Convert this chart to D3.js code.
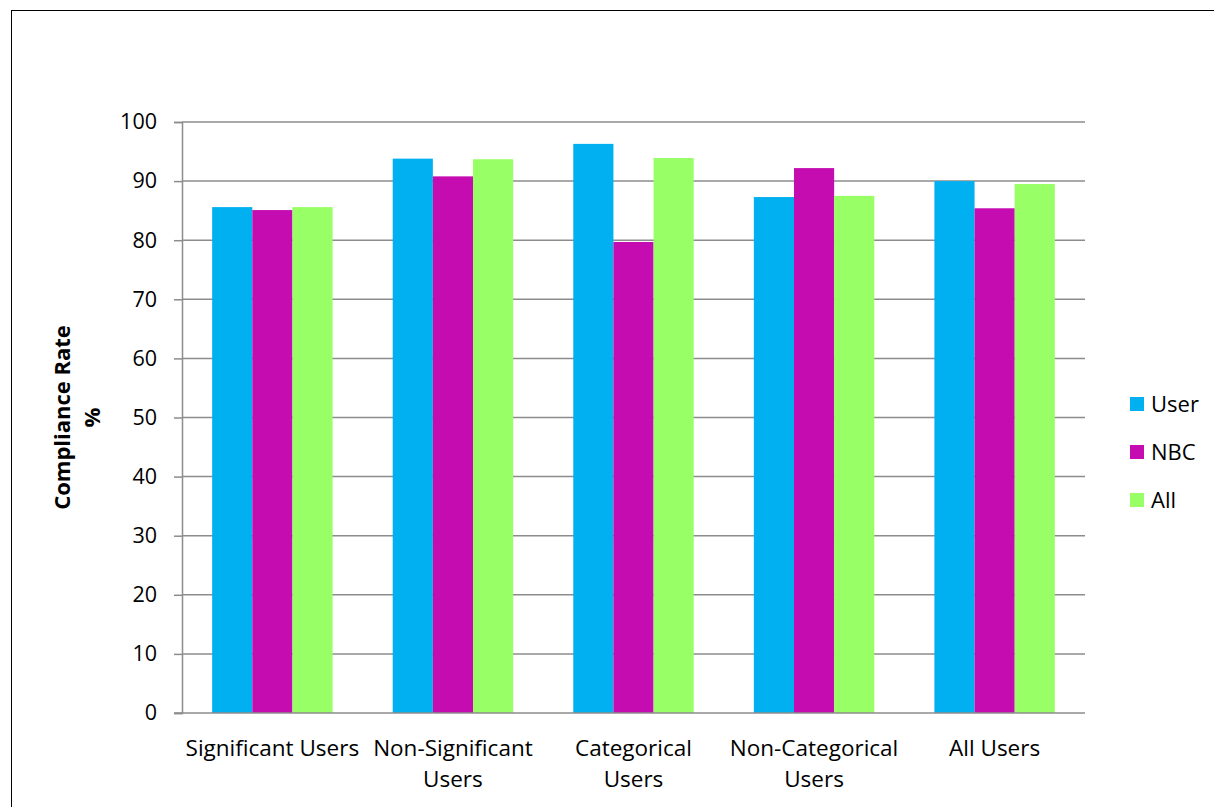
<!DOCTYPE html>
<html>
<head>
<meta charset="utf-8">
<script src="https://cdn.jsdelivr.net/npm/d3@7"></script>
<style>
  body { margin: 0; background: #fff; }
  text { font-family: "Open Sans", "Noto Sans", sans-serif; fill: #000; }
</style>
</head>
<body>
<div id="container"></div>
<script>
/* DATA */
const categories = ["Significant Users", "Non-Significant\nUsers", "Categorical\nUsers", "Non-Categorical\nUsers", "All Users"];
const seriesNames = ["User", "NBC", "All"];
const userValues = [85.6, 93.8, 96.3, 87.3, 90.0];
const nbcValues = [85.1, 90.8, 79.7, 92.2, 85.4];
const allValues = [85.6, 93.7, 93.9, 87.5, 89.5];
const yTicks = [0, 10, 20, 30, 40, 50, 60, 70, 80, 90, 100];

const colors = { User: "#00B0F0", NBC: "#C40CB0", All: "#99FF66" };

/* CONSTANTS */
const width = 1214, height = 807,
  margin = { top: 122, bottom: 94, left: 182, right: 129 };

const rows = categories.map((c, i) => ({
  category: c,
  User: userValues[i],
  NBC: nbcValues[i],
  All: allValues[i]
}));

const svg = d3.select("#container").append("svg")
  .attr("width", width)
  .attr("height", height)
  .style("display", "block");

// outer border
svg.append("rect")
  .attr("x", 11.5).attr("y", 10.5)
  .attr("width", width + 10).attr("height", height + 10)
  .attr("fill", "none")
  .attr("stroke", "#000")
  .attr("stroke-width", 1);

// SCALES
const x0 = d3.scaleBand()
  .domain(categories)
  .range([margin.left, width - margin.right])
  .paddingInner(0.333)
  .paddingOuter(0.167);

const x1 = d3.scaleBand()
  .domain(seriesNames)
  .range([0, x0.bandwidth()]);

const y = d3.scaleLinear()
  .domain([0, 100])
  .range([height - margin.bottom, margin.top]);

// GRIDLINES
svg.append("g")
  .selectAll("line.grid")
  .data(yTicks.filter(d => d > 0))
  .join("line")
  .attr("class", "grid")
  .attr("x1", margin.left)
  .attr("x2", width - margin.right)
  .attr("y1", d => y(d))
  .attr("y2", d => y(d))
  .attr("stroke", "#8c8c8c")
  .attr("stroke-width", 1.5);

// BARS
svg.append("g")
  .selectAll("g.group")
  .data(rows)
  .join("g")
  .attr("class", "group")
  .attr("transform", d => `translate(${x0(d.category)},0)`)
  .selectAll("rect")
  .data(d => seriesNames.map(s => ({ key: s, value: d[s] })))
  .join("rect")
  .attr("x", d => x1(d.key))
  .attr("width", x1.bandwidth())
  .attr("y", d => y(d.value))
  .attr("height", d => y(0) - y(d.value))
  .attr("fill", d => colors[d.key]);

// Y AXIS
const yAxis = svg.append("g")
  .attr("transform", `translate(${margin.left},0)`)
  .call(d3.axisLeft(y).tickValues(yTicks).tickSize(8).tickPadding(17));
yAxis.select(".domain").attr("stroke", "#8c8c8c").attr("stroke-width", 1.5);
yAxis.selectAll(".tick line").attr("stroke", "#8c8c8c").attr("stroke-width", 1.5);
yAxis.selectAll(".tick text").attr("font-size", 21.5).style("font-family", "'Open Sans', sans-serif");

// X AXIS
svg.append("line")
  .attr("x1", margin.left - 8)
  .attr("x2", width - margin.right)
  .attr("y1", y(0))
  .attr("y2", y(0))
  .attr("stroke", "#8c8c8c")
  .attr("stroke-width", 1.5);

svg.append("g")
  .selectAll("text.xlabel")
  .data(categories)
  .join("text")
  .attr("class", "xlabel")
  .attr("text-anchor", "middle")
  .attr("font-size", 22.5)
  .attr("x", d => x0(d) + x0.bandwidth() / 2)
  .attr("y", y(0) + 43)
  .selectAll("tspan")
  .data(d => d.split("\n").map(t => ({ t, cx: x0(d) + x0.bandwidth() / 2 })))
  .join("tspan")
  .attr("x", d => d.cx)
  .attr("dy", (d, i) => i === 0 ? 0 : 31)
  .text(d => d.t);

// Y TITLE
svg.append("text")
  .attr("transform", `translate(70,${(y(0) + y(100)) / 2}) rotate(-90)`)
  .attr("text-anchor", "middle")
  .attr("font-size", 22)
  .attr("font-weight", "bold")
  .selectAll("tspan")
  .data(["Compliance Rate", "%"])
  .join("tspan")
  .attr("x", 0)
  .attr("dy", (d, i) => i === 0 ? 0 : 30)
  .text(d => d);

// LEGEND
const legend = svg.append("g")
  .selectAll("g.legend")
  .data(seriesNames)
  .join("g")
  .attr("class", "legend")
  .attr("transform", (d, i) => `translate(1130,${404 + i * 48})`);

legend.append("rect")
  .attr("x", 0).attr("y", -7)
  .attr("width", 14).attr("height", 14)
  .attr("fill", d => colors[d]);

legend.append("text")
  .attr("x", 21)
  .attr("y", 8)
  .attr("font-size", 22)
  .text(d => d);
</script>
</body>
</html>
